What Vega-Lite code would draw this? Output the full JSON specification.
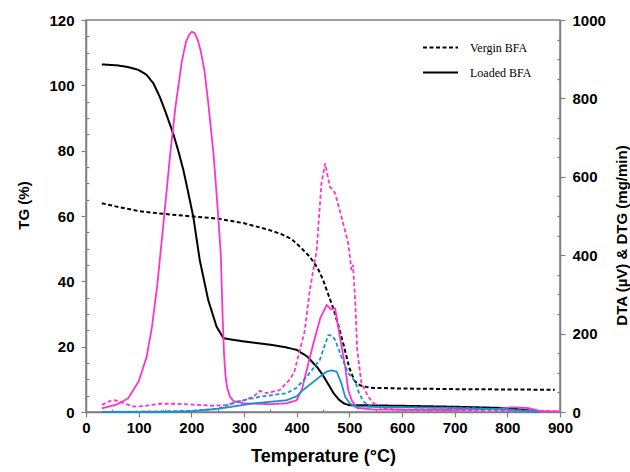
{
  "$schema": "https://vega.github.io/schema/vega-lite/v6.json",
  "width": 474,
  "height": 392,
  "autosize": "none",
  "padding": {"left": 86, "top": 20, "right": 70, "bottom": 60},
  "config": {
    "view": {"stroke": "#808080", "strokeWidth": 1.5},
    "font": "Liberation Sans",
    "axis": {"grid": false, "domainColor": "#808080", "domainWidth": 1.5, "tickColor": "#808080", "tickWidth": 1.2, "labelColor": "black", "titleColor": "black", "labelFont": "Liberation Sans", "titleFont": "Liberation Sans", "labelFlush": false}
  },
  "data": {"values": [
    {"s":"TG","b":"Vergin BFA","T":30,"v":63.9},{"s":"TG","b":"Vergin BFA","T":60,"v":62.8},{"s":"TG","b":"Vergin BFA","T":100,"v":61.5},{"s":"TG","b":"Vergin BFA","T":150,"v":60.6},{"s":"TG","b":"Vergin BFA","T":200,"v":59.9},{"s":"TG","b":"Vergin BFA","T":250,"v":59.2},{"s":"TG","b":"Vergin BFA","T":300,"v":57.8},{"s":"TG","b":"Vergin BFA","T":330,"v":56.5},{"s":"TG","b":"Vergin BFA","T":350,"v":55.6},{"s":"TG","b":"Vergin BFA","T":370,"v":54.5},{"s":"TG","b":"Vergin BFA","T":390,"v":53},{"s":"TG","b":"Vergin BFA","T":410,"v":50},{"s":"TG","b":"Vergin BFA","T":425,"v":47.5},{"s":"TG","b":"Vergin BFA","T":440,"v":44},{"s":"TG","b":"Vergin BFA","T":450,"v":40.5},{"s":"TG","b":"Vergin BFA","T":460,"v":36},{"s":"TG","b":"Vergin BFA","T":470,"v":31.5},{"s":"TG","b":"Vergin BFA","T":480,"v":26},{"s":"TG","b":"Vergin BFA","T":490,"v":20},{"s":"TG","b":"Vergin BFA","T":500,"v":13.5},{"s":"TG","b":"Vergin BFA","T":510,"v":9.5},{"s":"TG","b":"Vergin BFA","T":520,"v":8.2},{"s":"TG","b":"Vergin BFA","T":540,"v":7.4},{"s":"TG","b":"Vergin BFA","T":600,"v":7.2},{"s":"TG","b":"Vergin BFA","T":700,"v":7.0},{"s":"TG","b":"Vergin BFA","T":800,"v":6.9},{"s":"TG","b":"Vergin BFA","T":890,"v":6.8},
    {"s":"TG","b":"Loaded BFA","T":30,"v":106.4},{"s":"TG","b":"Loaded BFA","T":60,"v":106.1},{"s":"TG","b":"Loaded BFA","T":80,"v":105.6},{"s":"TG","b":"Loaded BFA","T":100,"v":104.7},{"s":"TG","b":"Loaded BFA","T":115,"v":103.2},{"s":"TG","b":"Loaded BFA","T":128,"v":100.6},{"s":"TG","b":"Loaded BFA","T":140,"v":96.5},{"s":"TG","b":"Loaded BFA","T":150,"v":92.3},{"s":"TG","b":"Loaded BFA","T":166,"v":85},{"s":"TG","b":"Loaded BFA","T":176,"v":79.5},{"s":"TG","b":"Loaded BFA","T":185,"v":74},{"s":"TG","b":"Loaded BFA","T":195,"v":66.5},{"s":"TG","b":"Loaded BFA","T":204,"v":59.5},{"s":"TG","b":"Loaded BFA","T":216,"v":46.5},{"s":"TG","b":"Loaded BFA","T":232,"v":34.3},{"s":"TG","b":"Loaded BFA","T":248,"v":26.1},{"s":"TG","b":"Loaded BFA","T":261,"v":22.6},{"s":"TG","b":"Loaded BFA","T":275,"v":22.2},{"s":"TG","b":"Loaded BFA","T":300,"v":21.6},{"s":"TG","b":"Loaded BFA","T":350,"v":20.6},{"s":"TG","b":"Loaded BFA","T":380,"v":19.8},{"s":"TG","b":"Loaded BFA","T":400,"v":19},{"s":"TG","b":"Loaded BFA","T":420,"v":17},{"s":"TG","b":"Loaded BFA","T":440,"v":13.5},{"s":"TG","b":"Loaded BFA","T":450,"v":11.2},{"s":"TG","b":"Loaded BFA","T":460,"v":8.5},{"s":"TG","b":"Loaded BFA","T":470,"v":5.8},{"s":"TG","b":"Loaded BFA","T":480,"v":3.8},{"s":"TG","b":"Loaded BFA","T":490,"v":2.6},{"s":"TG","b":"Loaded BFA","T":500,"v":2.1},{"s":"TG","b":"Loaded BFA","T":600,"v":1.9},{"s":"TG","b":"Loaded BFA","T":700,"v":1.6},{"s":"TG","b":"Loaded BFA","T":800,"v":1.2},{"s":"TG","b":"Loaded BFA","T":840,"v":0.5},{"s":"TG","b":"Loaded BFA","T":860,"v":0.1},
    {"s":"DTA","b":"Loaded BFA","T":30,"v":9},{"s":"DTA","b":"Loaded BFA","T":60,"v":20},{"s":"DTA","b":"Loaded BFA","T":80,"v":35},{"s":"DTA","b":"Loaded BFA","T":100,"v":78},{"s":"DTA","b":"Loaded BFA","T":115,"v":140},{"s":"DTA","b":"Loaded BFA","T":125,"v":215},{"s":"DTA","b":"Loaded BFA","T":135,"v":320},{"s":"DTA","b":"Loaded BFA","T":147,"v":480},{"s":"DTA","b":"Loaded BFA","T":160,"v":660},{"s":"DTA","b":"Loaded BFA","T":170,"v":780},{"s":"DTA","b":"Loaded BFA","T":182,"v":895},{"s":"DTA","b":"Loaded BFA","T":190,"v":945},{"s":"DTA","b":"Loaded BFA","T":196,"v":963},{"s":"DTA","b":"Loaded BFA","T":201,"v":970},{"s":"DTA","b":"Loaded BFA","T":206,"v":967},{"s":"DTA","b":"Loaded BFA","T":212,"v":950},{"s":"DTA","b":"Loaded BFA","T":218,"v":920},{"s":"DTA","b":"Loaded BFA","T":225,"v":870},{"s":"DTA","b":"Loaded BFA","T":232,"v":790},{"s":"DTA","b":"Loaded BFA","T":242,"v":660},{"s":"DTA","b":"Loaded BFA","T":250,"v":520},{"s":"DTA","b":"Loaded BFA","T":256,"v":400},{"s":"DTA","b":"Loaded BFA","T":259,"v":260},{"s":"DTA","b":"Loaded BFA","T":262,"v":150},{"s":"DTA","b":"Loaded BFA","T":265,"v":90},{"s":"DTA","b":"Loaded BFA","T":268,"v":62},{"s":"DTA","b":"Loaded BFA","T":273,"v":40},{"s":"DTA","b":"Loaded BFA","T":280,"v":28},{"s":"DTA","b":"Loaded BFA","T":300,"v":22},{"s":"DTA","b":"Loaded BFA","T":350,"v":20},{"s":"DTA","b":"Loaded BFA","T":380,"v":22},{"s":"DTA","b":"Loaded BFA","T":400,"v":30},{"s":"DTA","b":"Loaded BFA","T":410,"v":58},{"s":"DTA","b":"Loaded BFA","T":419,"v":107},{"s":"DTA","b":"Loaded BFA","T":432,"v":176},{"s":"DTA","b":"Loaded BFA","T":445,"v":240},{"s":"DTA","b":"Loaded BFA","T":457,"v":273},{"s":"DTA","b":"Loaded BFA","T":465,"v":262},{"s":"DTA","b":"Loaded BFA","T":473,"v":264},{"s":"DTA","b":"Loaded BFA","T":482,"v":192},{"s":"DTA","b":"Loaded BFA","T":492,"v":116},{"s":"DTA","b":"Loaded BFA","T":498,"v":56},{"s":"DTA","b":"Loaded BFA","T":505,"v":28},{"s":"DTA","b":"Loaded BFA","T":515,"v":10},{"s":"DTA","b":"Loaded BFA","T":550,"v":6},{"s":"DTA","b":"Loaded BFA","T":700,"v":5},{"s":"DTA","b":"Loaded BFA","T":780,"v":8},{"s":"DTA","b":"Loaded BFA","T":810,"v":12},{"s":"DTA","b":"Loaded BFA","T":840,"v":10},{"s":"DTA","b":"Loaded BFA","T":860,"v":3},{"s":"DTA","b":"Loaded BFA","T":900,"v":1},
    {"s":"DTA","b":"Vergin BFA","T":30,"v":18},{"s":"DTA","b":"Vergin BFA","T":45,"v":28},{"s":"DTA","b":"Vergin BFA","T":55,"v":30},{"s":"DTA","b":"Vergin BFA","T":70,"v":23},{"s":"DTA","b":"Vergin BFA","T":90,"v":14},{"s":"DTA","b":"Vergin BFA","T":110,"v":15},{"s":"DTA","b":"Vergin BFA","T":140,"v":21},{"s":"DTA","b":"Vergin BFA","T":170,"v":21},{"s":"DTA","b":"Vergin BFA","T":204,"v":19},{"s":"DTA","b":"Vergin BFA","T":240,"v":16},{"s":"DTA","b":"Vergin BFA","T":267,"v":18},{"s":"DTA","b":"Vergin BFA","T":300,"v":30},{"s":"DTA","b":"Vergin BFA","T":318,"v":39},{"s":"DTA","b":"Vergin BFA","T":330,"v":54},{"s":"DTA","b":"Vergin BFA","T":343,"v":48},{"s":"DTA","b":"Vergin BFA","T":368,"v":56},{"s":"DTA","b":"Vergin BFA","T":385,"v":80},{"s":"DTA","b":"Vergin BFA","T":395,"v":100},{"s":"DTA","b":"Vergin BFA","T":406,"v":158},{"s":"DTA","b":"Vergin BFA","T":415,"v":205},{"s":"DTA","b":"Vergin BFA","T":425,"v":311},{"s":"DTA","b":"Vergin BFA","T":438,"v":413},{"s":"DTA","b":"Vergin BFA","T":447,"v":583},{"s":"DTA","b":"Vergin BFA","T":454,"v":634},{"s":"DTA","b":"Vergin BFA","T":463,"v":575},{"s":"DTA","b":"Vergin BFA","T":473,"v":558},{"s":"DTA","b":"Vergin BFA","T":485,"v":498},{"s":"DTA","b":"Vergin BFA","T":498,"v":430},{"s":"DTA","b":"Vergin BFA","T":504,"v":362},{"s":"DTA","b":"Vergin BFA","T":507,"v":375},{"s":"DTA","b":"Vergin BFA","T":511,"v":286},{"s":"DTA","b":"Vergin BFA","T":515,"v":158},{"s":"DTA","b":"Vergin BFA","T":523,"v":73},{"s":"DTA","b":"Vergin BFA","T":536,"v":39},{"s":"DTA","b":"Vergin BFA","T":546,"v":22},{"s":"DTA","b":"Vergin BFA","T":560,"v":10},{"s":"DTA","b":"Vergin BFA","T":600,"v":5},{"s":"DTA","b":"Vergin BFA","T":900,"v":2},
    {"s":"DTG","b":"Vergin BFA","T":30,"v":0},{"s":"DTG","b":"Vergin BFA","T":100,"v":1},{"s":"DTG","b":"Vergin BFA","T":200,"v":3},{"s":"DTG","b":"Vergin BFA","T":250,"v":8},{"s":"DTG","b":"Vergin BFA","T":286,"v":26},{"s":"DTG","b":"Vergin BFA","T":330,"v":39},{"s":"DTG","b":"Vergin BFA","T":381,"v":48},{"s":"DTG","b":"Vergin BFA","T":400,"v":62},{"s":"DTG","b":"Vergin BFA","T":419,"v":90},{"s":"DTG","b":"Vergin BFA","T":444,"v":133},{"s":"DTG","b":"Vergin BFA","T":452,"v":165},{"s":"DTG","b":"Vergin BFA","T":460,"v":196},{"s":"DTG","b":"Vergin BFA","T":467,"v":195},{"s":"DTG","b":"Vergin BFA","T":473,"v":184},{"s":"DTG","b":"Vergin BFA","T":485,"v":141},{"s":"DTG","b":"Vergin BFA","T":498,"v":99},{"s":"DTG","b":"Vergin BFA","T":505,"v":88},{"s":"DTG","b":"Vergin BFA","T":511,"v":78},{"s":"DTG","b":"Vergin BFA","T":518,"v":50},{"s":"DTG","b":"Vergin BFA","T":526,"v":28},{"s":"DTG","b":"Vergin BFA","T":538,"v":15},{"s":"DTG","b":"Vergin BFA","T":560,"v":12},{"s":"DTG","b":"Vergin BFA","T":700,"v":11},{"s":"DTG","b":"Vergin BFA","T":800,"v":7},{"s":"DTG","b":"Vergin BFA","T":850,"v":2},{"s":"DTG","b":"Vergin BFA","T":860,"v":0},
    {"s":"DTG","b":"Loaded BFA","T":30,"v":0},{"s":"DTG","b":"Loaded BFA","T":150,"v":0},{"s":"DTG","b":"Loaded BFA","T":200,"v":2},{"s":"DTG","b":"Loaded BFA","T":250,"v":8},{"s":"DTG","b":"Loaded BFA","T":318,"v":22},{"s":"DTG","b":"Loaded BFA","T":381,"v":30},{"s":"DTG","b":"Loaded BFA","T":400,"v":40},{"s":"DTG","b":"Loaded BFA","T":412,"v":56},{"s":"DTG","b":"Loaded BFA","T":430,"v":75},{"s":"DTG","b":"Loaded BFA","T":444,"v":90},{"s":"DTG","b":"Loaded BFA","T":457,"v":103},{"s":"DTG","b":"Loaded BFA","T":466,"v":106},{"s":"DTG","b":"Loaded BFA","T":476,"v":103},{"s":"DTG","b":"Loaded BFA","T":485,"v":73},{"s":"DTG","b":"Loaded BFA","T":492,"v":39},{"s":"DTG","b":"Loaded BFA","T":501,"v":22},{"s":"DTG","b":"Loaded BFA","T":510,"v":14},{"s":"DTG","b":"Loaded BFA","T":600,"v":12},{"s":"DTG","b":"Loaded BFA","T":700,"v":10},{"s":"DTG","b":"Loaded BFA","T":800,"v":6},{"s":"DTG","b":"Loaded BFA","T":850,"v":1},{"s":"DTG","b":"Loaded BFA","T":860,"v":0}
  ]},
  "layer": [
    {
      "transform": [{"filter": "datum.s === 'TG' && datum.b === 'Vergin BFA'"}],
      "mark": {"type": "line", "strokeWidth": 2},
      "encoding": {
        "x": {"field": "T", "type": "quantitative", "scale": {"domain": [0, 900], "nice": false},
          "axis": {"orient": "bottom", "values": [0,100,200,300,400,500,600,700,800,900], "tickSize": 5, "labelPadding": 3, "labelFontSize": 15, "labelFontWeight": "bold", "labelFlush": false, "title": "Temperature (°C)", "titleFontSize": 18, "titleFontWeight": "bold", "titlePadding": 12}},
        "y": {"field": "v", "type": "quantitative", "scale": {"domain": [0, 120], "nice": false, "zero": true},
          "axis": {"orient": "left", "values": [0,20,40,60,80,100,120], "tickSize": 5, "labelPadding": 7, "labelFontSize": 15, "labelFontWeight": "bold", "labelFlush": false, "title": "TG (%)", "titleFontSize": 15, "titleFontWeight": "bold", "titlePadding": 17, "titleY": 185}},
        "color": {"field": "s", "type": "nominal", "scale": {"domain": ["TG","DTA","DTG"], "range": ["#000000","#ff33cc","#1a8fd6"]}, "legend": null},
        "strokeDash": {"field": "b", "type": "nominal", "scale": {"domain": ["Vergin BFA","Loaded BFA"], "range": [[4,2.5],[1,0]]},
          "legend": {"orient": "none", "legendX": 336, "legendY": 9, "title": null, "symbolType": "stroke", "symbolStrokeColor": "black", "symbolStrokeWidth": 2, "symbolSize": 1225, "labelFont": "Liberation Serif", "labelFontSize": 12, "labelColor": "black", "labelOffset": 11, "rowPadding": -10}}
      }
    },
    {
      "transform": [{"filter": "datum.s === 'TG' && datum.b === 'Loaded BFA'"}],
      "mark": {"type": "line", "strokeWidth": 2},
      "encoding": {
        "x": {"field": "T", "type": "quantitative", "scale": {"domain": [0, 900], "nice": false},
          "axis": {"orient": "bottom", "values": [50,150,250,350,450,550,650,750,850], "tickSize": -3, "labels": false, "domain": false, "title": null}},
        "y": {"field": "v", "type": "quantitative", "scale": {"domain": [0, 120], "nice": false, "zero": true},
          "axis": {"orient": "left", "values": [5,10,15,25,30,35,45,50,55,65,70,75,85,90,95,105,110,115], "tickSize": -3, "labels": false, "domain": false, "title": null}},
        "color": {"field": "s", "type": "nominal", "scale": {"domain": ["TG","DTA","DTG"], "range": ["#000000","#ff33cc","#1a8fd6"]}, "legend": null},
        "strokeDash": {"field": "b", "type": "nominal", "scale": {"domain": ["Vergin BFA","Loaded BFA"], "range": [[4,2.5],[1,0]]},
          "legend": {"orient": "none", "legendX": 336, "legendY": 9, "title": null, "symbolType": "stroke", "symbolStrokeColor": "black", "symbolStrokeWidth": 2, "symbolSize": 1225, "labelFont": "Liberation Serif", "labelFontSize": 12, "labelColor": "black", "labelOffset": 11, "rowPadding": -10}}
      }
    },
    {
      "transform": [{"filter": "datum.s === 'DTA'"}],
      "mark": {"type": "line", "strokeWidth": 1.8},
      "encoding": {
        "x": {"field": "T", "type": "quantitative", "scale": {"domain": [0, 900], "nice": false}, "axis": null},
        "y": {"field": "v", "type": "quantitative", "scale": {"domain": [0, 1000], "nice": false, "zero": true},
          "axis": {"orient": "right", "values": [0,200,400,600,800,1000], "format": "d", "tickSize": 5, "labelPadding": 7, "labelFontSize": 15, "labelFontWeight": "bold", "labelFlush": false, "title": "DTA (µV) & DTG (mg/min)", "titleFontSize": 15, "titleFontWeight": "bold", "titleAngle": -90, "titleAlign": "center", "titleBaseline": "top", "titleX": 54, "titleY": 215}},
        "color": {"field": "s", "type": "nominal", "scale": {"domain": ["TG","DTA","DTG"], "range": ["#000000","#ff33cc","#1a8fd6"]}, "legend": null},
        "strokeDash": {"field": "b", "type": "nominal", "scale": {"domain": ["Vergin BFA","Loaded BFA"], "range": [[4,2.5],[1,0]]},
          "legend": {"orient": "none", "legendX": 336, "legendY": 9, "title": null, "symbolType": "stroke", "symbolStrokeColor": "black", "symbolStrokeWidth": 2, "symbolSize": 1225, "labelFont": "Liberation Serif", "labelFontSize": 12, "labelColor": "black", "labelOffset": 11, "rowPadding": -10}}
      }
    },
    {
      "transform": [{"filter": "datum.s === 'DTG'"}],
      "mark": {"type": "line", "strokeWidth": 1.8},
      "encoding": {
        "x": {"field": "T", "type": "quantitative", "scale": {"domain": [0, 900], "nice": false}, "axis": null},
        "y": {"field": "v", "type": "quantitative", "scale": {"domain": [0, 1000], "nice": false, "zero": true},
          "axis": {"orient": "right", "values": [50,100,150,250,300,350,450,500,550,650,700,750,850,900,950], "tickSize": -3, "labels": false, "domain": false, "title": null}},
        "color": {"field": "s", "type": "nominal", "scale": {"domain": ["TG","DTA","DTG"], "range": ["#000000","#ff33cc","#1a8fd6"]}, "legend": null},
        "strokeDash": {"field": "b", "type": "nominal", "scale": {"domain": ["Vergin BFA","Loaded BFA"], "range": [[4,2.5],[1,0]]},
          "legend": {"orient": "none", "legendX": 336, "legendY": 9, "title": null, "symbolType": "stroke", "symbolStrokeColor": "black", "symbolStrokeWidth": 2, "symbolSize": 1225, "labelFont": "Liberation Serif", "labelFontSize": 12, "labelColor": "black", "labelOffset": 11, "rowPadding": -10}}
      }
    }
  ],
  "resolve": {"scale": {"y": "independent"}, "axis": {"x": "independent", "y": "independent"}}
}
